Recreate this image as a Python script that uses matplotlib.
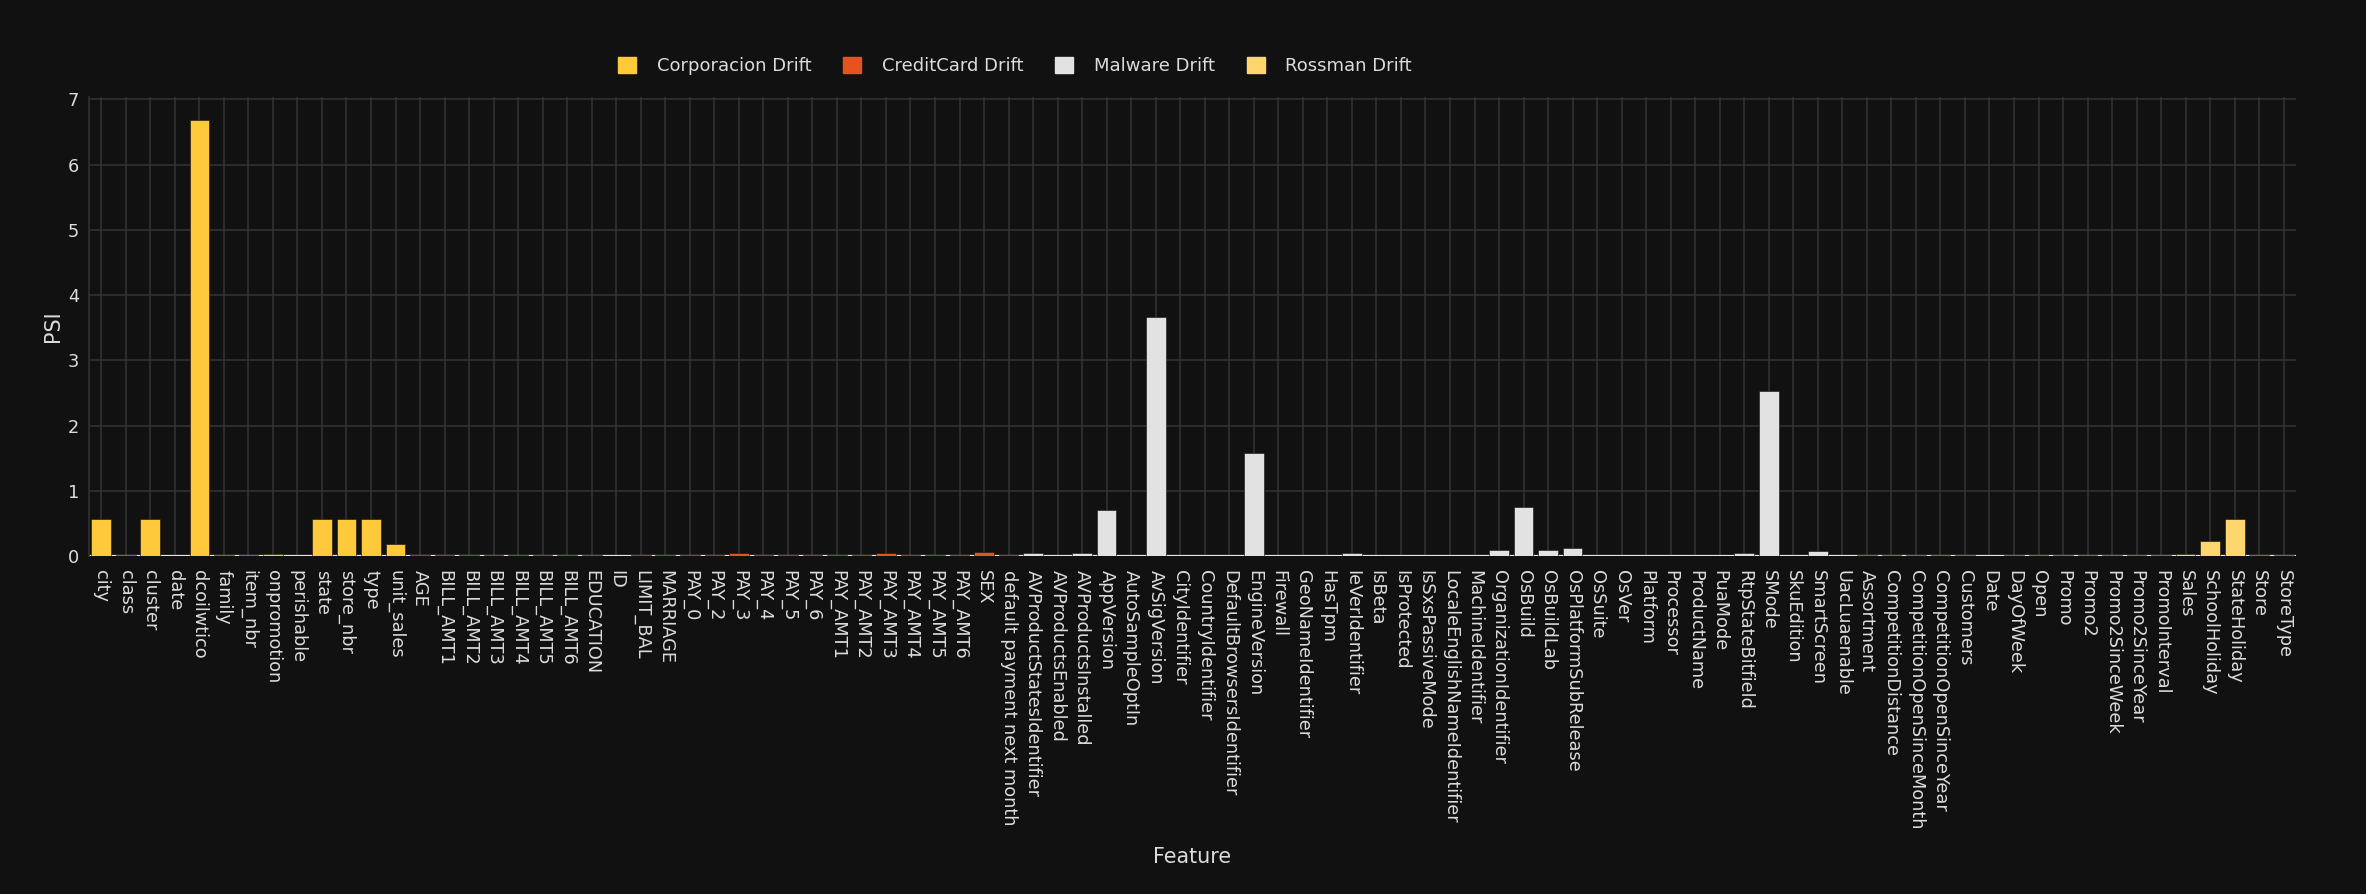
import matplotlib.pyplot as plt
from matplotlib.patches import Patch
import numpy as np

corp_features = ['city', 'class', 'cluster', 'date', 'dcoilwtico', 'family', 'item_nbr',
                 'onpromotion', 'perishable', 'state', 'store_nbr', 'type', 'unit_sales']
corp_psi = [0.56, 0.01, 0.56, 0.0, 6.69, 0.01, 0.01, 0.035, 0.0, 0.56, 0.56, 0.56, 0.185]

cc_features = ['AGE', 'BILL_AMT1', 'BILL_AMT2', 'BILL_AMT3', 'BILL_AMT4', 'BILL_AMT5', 'BILL_AMT6',
               'EDUCATION', 'ID', 'LIMIT_BAL', 'MARRIAGE', 'PAY_0', 'PAY_2', 'PAY_3', 'PAY_4',
               'PAY_5', 'PAY_6', 'PAY_AMT1', 'PAY_AMT2', 'PAY_AMT3', 'PAY_AMT4', 'PAY_AMT5',
               'PAY_AMT6', 'SEX', 'default payment next month']
cc_psi = [0.015, 0.015, 0.015, 0.015, 0.015, 0.015, 0.015, 0.015, 0.0, 0.015, 0.015, 0.015, 0.015,
          0.04, 0.015, 0.015, 0.015, 0.015, 0.015, 0.04, 0.015, 0.015, 0.015, 0.055, 0.015]

mw_features = ['AVProductStatesIdentifier', 'AVProductsEnabled', 'AVProductsInstalled', 'AppVersion',
               'AutoSampleOptIn', 'AvSigVersion', 'CityIdentifier', 'CountryIdentifier',
               'DefaultBrowsersIdentifier', 'EngineVersion', 'Firewall', 'GeoNameIdentifier', 'HasTpm',
               'IeVerIdentifier', 'IsBeta', 'IsProtected', 'IsSxsPassiveMode',
               'LocaleEnglishNameIdentifier', 'MachineIdentifier', 'OrganizationIdentifier', 'OsBuild',
               'OsBuildLab', 'OsPlatformSubRelease', 'OsSuite', 'OsVer', 'Platform', 'Processor',
               'ProductName', 'PuaMode', 'RtpStateBitfield', 'SMode', 'SkuEdition', 'SmartScreen',
               'UacLuaenable']
mw_psi = [0.04, 0.005, 0.04, 0.71, 0.0, 3.67, 0.005, 0.005, 0.005, 1.58, 0.005, 0.005, 0.005,
          0.045, 0.0, 0.005, 0.005, 0.005, 0.005, 0.085, 0.75, 0.085, 0.12, 0.005, 0.005, 0.005,
          0.005, 0.005, 0.005, 0.04, 2.53, 0.005, 0.07, 0.005]

ross_features = ['Assortment', 'CompetitionDistance', 'CompetitionOpenSinceMonth',
                 'CompetitionOpenSinceYear', 'Customers', 'Date', 'DayOfWeek', 'Open', 'Promo',
                 'Promo2', 'Promo2SinceWeek', 'Promo2SinceYear', 'PromoInterval', 'Sales',
                 'SchoolHoliday', 'StateHoliday', 'Store', 'StoreType']
ross_psi = [0.01, 0.01, 0.01, 0.01, 0.01, 0.0, 0.01, 0.01, 0.01, 0.01, 0.01, 0.01, 0.01,
            0.035, 0.23, 0.57, 0.01, 0.01]

series = [('Corporacion Drift', corp_features, corp_psi, '#FFC93C'),
          ('CreditCard Drift', cc_features, cc_psi, '#E4541C'),
          ('Malware Drift', mw_features, mw_psi, '#E2E2E2'),
          ('Rossman Drift', ross_features, ross_psi, '#FFD66E')]

bg = '#111111'
txt = '#DCDCDC'
grid = '#333333'

plt.rcParams['font.family'] = ['DejaVu Sans']

fig = plt.figure(figsize=(23.66, 8.94), dpi=100, facecolor=bg)
ax = fig.add_axes([89 / 2366, 1 - 556 / 894, (2296 - 89) / 2366, (556 - 97) / 894])
ax.set_facecolor(bg)

all_features = []
for name, feats, vals, col in series:
    start = len(all_features)
    all_features += feats
    x = np.arange(start, start + len(feats))
    ax.bar(x, vals, width=0.8, color=col, edgecolor=bg, linewidth=0.4, zorder=3, label=name)

ax.set_xlim(-0.5, len(all_features) - 0.5)
ax.set_ylim(0, 7.035)
ax.set_xticks(np.arange(len(all_features)))
ax.set_xticklabels(all_features, rotation=-90, ha='center', va='top', fontsize=12.8, color=txt)
ax.set_yticks(range(0, 8))
ax.tick_params(axis='y', colors=txt, labelsize=12.8, length=0, pad=7)
ax.tick_params(axis='x', length=0, pad=10)
ax.grid(True, color=grid, linewidth=1.1, zorder=0)
ax.axhline(0, color='#E8E8E8', linewidth=1.6, zorder=2)
for s in ['top', 'right', 'bottom']:
    ax.spines[s].set_visible(False)
ax.spines['left'].set_color(grid)
ax.spines['left'].set_linewidth(1.1)

ax.set_xlabel('Feature', fontsize=14.9, color=txt, va='center')
ax.xaxis.set_label_coords(0.5, (556 - 857) / (556 - 97))
ax.set_ylabel('PSI', fontsize=14.9, color=txt, va='center')
ax.yaxis.set_label_coords((53 - 89) / (2296 - 89), 0.5)

handles = [Patch(facecolor=c, edgecolor=c) for _, _, _, c in series]
labels = [n for n, _, _, _ in series]
fig.legend(handles, labels, loc='center left', bbox_to_anchor=(602 / 2366, 1 - 66 / 894),
           ncol=4, frameon=False, fontsize=13, labelcolor=txt, handlelength=1.0,
           handleheight=1.0, handletextpad=1.15, columnspacing=1.75, borderpad=0.4)

fig.savefig('out.png', dpi=100, facecolor=bg)
